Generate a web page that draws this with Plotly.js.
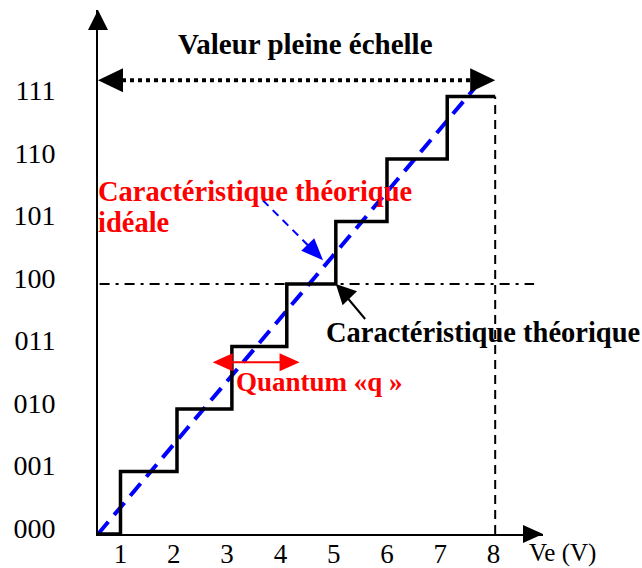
<!DOCTYPE html>
<html>
<head>
<meta charset="utf-8">
<script src="https://cdn.plot.ly/plotly-3.0.1.min.js"></script>
<style>html,body{margin:0;padding:0;background:#fff;}</style>
</head>
<body>
<div id="chart" style="width:642px;height:568px;"></div>
<script>
// ---- data ----
const codes = ['000', '001', '010', '011', '100', '101', '110', '111'];
const codeLevels = [0, 1, 2, 3, 4, 5, 6, 7];
const veTicks = [1, 2, 3, 4, 5, 6, 7, 8];
const veTickText = ['1', '2', '3', '4', '5', '6', '7', '8'];
const veOrigin = 0.578;                 // where the axes cross
const veMax = 8.927;                    // end of the Ve axis (arrow tip)
const codeMax = 8.384;                  // end of the code axis (arrow tip)
const stepVe = [1, 2.06, 3.09, 4.12, 5.04, 6.0, 7.13]; // code transitions
const fullScale = 8.03;                 // "valeur pleine échelle"
const idealVe = [0.578, 7.65];
const idealCode = [0, 7.14];
const midCode = 4;                      // dash-dot reference level (100)
const fullScaleArrowY = 7.26;
const quantumY = 2.75, quantumX = [2.73, 4.36];
const bluePtr = {x0: 3.67, y0: 5.34, x1: 4.80, y1: 4.38};
const blackPtr = {x0: 5.59, y0: 3.44, x1: 5.04, y1: 4};

// ---- build traces ----
const stairX = [veOrigin].concat(stepVe, [fullScale]);
const stairY = codeLevels.concat([7]);

const serif = 'Liberation Serif';
const traces = [
  {x: idealVe, y: idealCode, mode: 'lines', hoverinfo: 'skip',
   line: {color: '#0000ff', width: 4, dash: '16px,9px'}},
  {x: stairX, y: stairY, mode: 'lines', hoverinfo: 'skip',
   line: {color: '#000', width: 3.5, shape: 'hv'}}
];

function tri(xa, ya, xr, yr, pts, color) {
  let p = 'M' + pts.map(q => q[0] + ',' + q[1]).join(' L') + ' Z';
  return {type: 'path', xref: xr, yref: yr, xsizemode: 'pixel', ysizemode: 'pixel',
    xanchor: xa, yanchor: ya, path: p, fillcolor: color, line: {width: 0}, layer: 'above'};
}
function lerp(a, b, t) { return a + (b - a) * t; }

const shapes = [
  {type: 'line', xref: 'x', yref: 'y', x0: veOrigin + 0.03, x1: 8.76, y0: midCode, y1: midCode,
   line: {color: '#000', width: 2, dash: '10px,6px,3px,6px'}},
  {type: 'line', xref: 'x', yref: 'y', x0: fullScale, x1: fullScale, y0: 0, y1: 7,
   line: {color: '#000', width: 2, dash: '9px,6px'}},
  {type: 'line', xref: 'x', yref: 'y', x0: veOrigin + 0.45, x1: fullScale - 0.45,
   y0: fullScaleArrowY, y1: fullScaleArrowY, line: {color: '#000', width: 4, dash: 'dot'}},
  tri(veOrigin, fullScaleArrowY, 'x', 'y', [[0,0],[25,12],[25,-12]], '#000'),
  tri(fullScale, fullScaleArrowY, 'x', 'y', [[0,0],[-25,12],[-25,-12]], '#000'),
  tri(0, 1, 'paper', 'paper', [[0,0],[-10,-20],[10,-20]], '#000'),
  tri(1, 0, 'paper', 'paper', [[0,0],[-20,9],[-20,-9]], '#000'),
  {type: 'line', xref: 'x', yref: 'y', x0: bluePtr.x0, y0: bluePtr.y0,
   x1: lerp(bluePtr.x0, bluePtr.x1, 0.78), y1: lerp(bluePtr.y0, bluePtr.y1, 0.78),
   line: {color: '#0000ff', width: 2, dash: '8px,6px'}},
  tri(bluePtr.x1, bluePtr.y1, 'x', 'y', [[0,0],[-21.8,9.5],[-8.8,22.1]], '#0000ff'),
  {type: 'line', xref: 'x', yref: 'y', x0: blackPtr.x0, y0: blackPtr.y0,
   x1: lerp(blackPtr.x0, blackPtr.x1, 0.6), y1: lerp(blackPtr.y0, blackPtr.y1, 0.6),
   line: {color: '#000', width: 2}},
  tri(blackPtr.x1, blackPtr.y1, 'x', 'y', [[0,0],[6.8,-21.3],[21.2,-7.3]], '#000'),
  {type: 'line', xref: 'x', yref: 'y', x0: quantumX[0] + 0.3, y0: quantumY,
   x1: quantumX[1] - 0.3, y1: quantumY, line: {color: '#ff0000', width: 2}},
  tri(quantumX[0], quantumY, 'x', 'y', [[0,0],[20,9],[20,-9]], '#ff0000'),
  tri(quantumX[1], quantumY, 'x', 'y', [[0,0],[-20,9],[-20,-9]], '#ff0000')
];

function ann(x, y, text, color, size, xanchor) {
  return {xref: 'paper', yref: 'paper', x: x, y: y, text: text, showarrow: false,
    xanchor: xanchor, yanchor: 'middle', font: {family: serif, size: size, color: color}};
}
const annotations = [
  ann(0.467, 0.935, '<b>Valeur pleine échelle</b>', '#000', 29, 'center'),
  ann(-0.004, 0.653, '<b>Caractéristique théorique</b>', '#ff0000', 28.5, 'left'),
  ann(-0.004, 0.595, '<b>idéale</b>', '#ff0000', 28.5, 'left'),
  ann(0.508, 0.384, '<b>Caractéristique théorique</b>', '#000', 28.5, 'left'),
  ann(0.305, 0.290, '<b>Quantum «q »</b>', '#ff0000', 27, 'left'),
  ann(0.964, -0.036, 'Ve (V)', '#000', 25, 'left')
];

const layout = {
  width: 642, height: 568,
  margin: {l: 98, r: 99, t: 10, b: 34},
  paper_bgcolor: '#fff', plot_bgcolor: '#fff',
  showlegend: false,
  xaxis: {range: [veOrigin, veMax], showgrid: false, zeroline: false, showline: true,
    linecolor: '#000', linewidth: 2, tickvals: veTicks, ticktext: veTickText, ticks: '',
    ticklabelstandoff: -5, tickfont: {family: serif, size: 27, color: '#000'}, fixedrange: true},
  yaxis: {range: [0, codeMax], showgrid: false, zeroline: false, showline: true,
    linecolor: '#000', linewidth: 2, tickvals: codeLevels, ticktext: codes, ticks: '',
    ticklabelstandoff: 35, ticklabelshift: -6,
    tickfont: {family: serif, size: 28, color: '#000'}, fixedrange: true},
  shapes: shapes,
  annotations: annotations
};

Plotly.newPlot('chart', traces, layout, {staticPlot: true});
</script>
</body>
</html>
